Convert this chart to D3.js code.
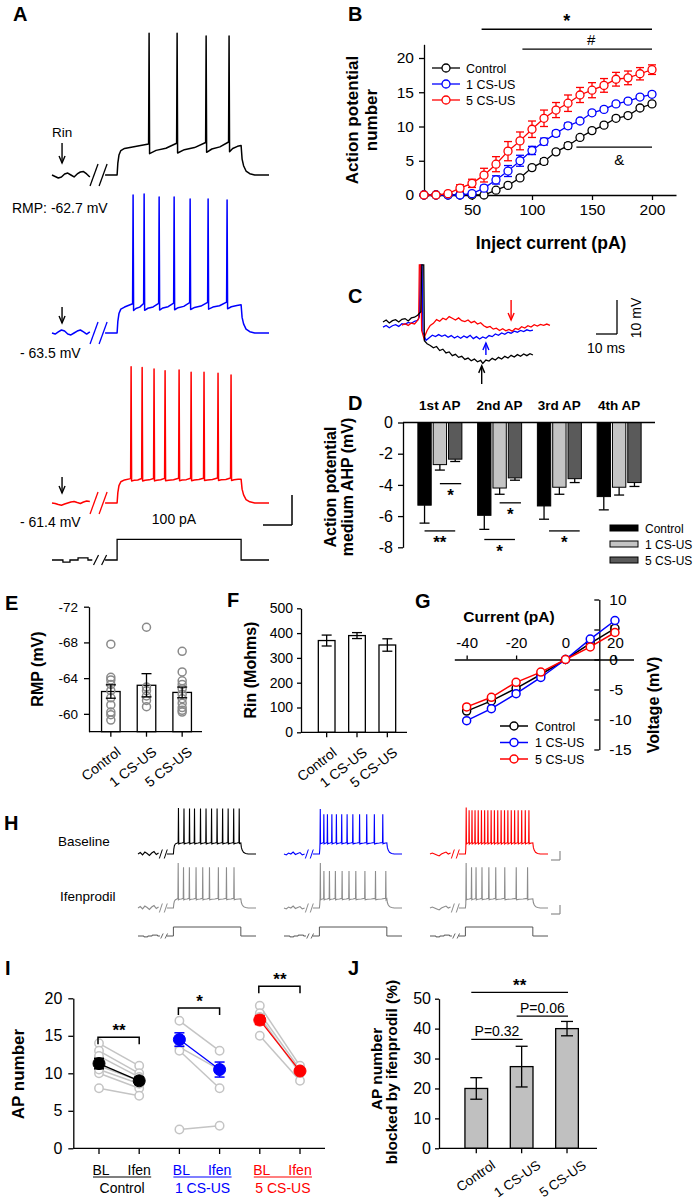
<!DOCTYPE html>
<html><head><meta charset="utf-8">
<script src="https://cdn.jsdelivr.net/npm/d3@7"></script>
<style>body{margin:0;background:#fff}svg{display:block}</style>
</head><body>
<svg id="fig" width="697" height="1202"></svg>
<script>
// ================= DATA =================
// Panel A (example traces)
const aSpikeTimesControl = [258, 484, 718, 903];
const aSpikeTimesOne = [129, 218, 339, 460, 589, 734, 887];
const aSpikeTimesFive = [113, 202, 298, 387, 500, 597, 701, 814, 919];
const aPeaksControl = [31.8, 31.8, 30, 30];
const aPeaksOne = [28.5, 29.2, 27.2, 27.2, 25.8, 25.8, 25.2];
const aPeaksFive = [29.5, 29, 27.9, 26.8, 27.2, 25.7, 25.7, 25.1, 23.9];
const aRmp = [-62.7, -63.5, -61.4];
const aRmpLabels = ['RMP: -62.7 mV', '- 63.5 mV', '- 61.4 mV'];
const aPreControl = [0, -1, -2, -1.3, 0.7, 1.3, 0, -1.3, 0.7, 2, 2.3, 0.7, -1.3];
const aPreOne = [0, -0.7, 0.7, 2, 1.3, -0.7, -1.3, 0, 1.3, 2, 0.7, -0.7, 0.7];
const aPreFive = [0, -0.3, -1, -1.5, -0.7, 0, 0.7, 1, 0.3, -0.3, 0.7, 1.3, 1];
const aStepCurrent = 100;
const aCurrentPreLevels = [0, -10, 0, 10, 0];
const aCurrentPreTimes = [-525, -437, -380, -315, -235, -200];

// Panel B
const bCurrent = [10,20,30,40,50,60,70,80,90,100,110,120,130,140,150,160,170,180,190,200];
const bControl = [0,0,0,0,0,0,0.7,1.4,2.5,4.0,4.9,6.3,7.2,8.4,9.4,10.2,11.2,11.6,12.7,13.3];
const bControlErr = [0,0,0,0,0,0,0.2,0.2,0.3,0.3,0.4,0.3,0.4,0.3,0.3,0.3,0.3,0.3,0.3,0.3];
const bOne = [0,0,0,0,0.2,1.0,2.2,3.5,5.0,6.5,7.8,9.0,10.1,10.8,12.0,12.5,13.3,13.7,14.3,14.7];
const bOneErr = [0,0,0,0,0.1,0.4,0.6,0.8,0.8,0.6,0.5,0.4,0.4,0.3,0.3,0.3,0.3,0.3,0.3,0.3];
const bFive = [0,0,0.2,1.0,1.7,2.9,4.5,6.4,7.9,9.6,11.2,12.4,13.4,14.6,15.3,16.0,16.9,17.1,17.7,18.3];
const bFiveErr = [0,0,0.1,0.5,0.6,1.0,1.1,1.4,1.3,1.2,1.2,1.1,1.2,1.1,1.1,1.0,1.0,1.0,0.9,0.7];
const groupNames = ['Control', '1 CS-US', '5 CS-US'];
const bYTicks = [0,5,10,15,20];
const bXTicks = [50,100,150,200];
const bSig = [{from:58,to:200,y:24.2,label:'*'},{from:92,to:200,y:21.3,label:'#'},{from:137,to:200,y:7.0,label:'&'}];

// Panel C (ms, mV)
const cControl = [[0,-60.0],[1.5,-59.4],[3,-60.3],[4.5,-59.6],[6,-59.3],[7.5,-60.0],[9,-59.2],[10.5,-59.0],[12,-59.7],[13.5,-58.8],[15,-58.6],[16.5,-58.0],[18,-57.0],[18.5,-43.2],[19.4,-43.2],[19.7,-65.5],[21,-66.4],[22.5,-66.9],[24,-67.6],[25.5,-67.2],[27,-68.4],[28.5,-68.0],[30,-69.1],[31.5,-68.8],[33,-69.9],[34.5,-69.5],[36,-70.4],[37.5,-70.1],[39,-71.0],[40.5,-70.6],[42,-71.4],[43.5,-70.9],[45,-71.7],[46.5,-71.3],[47.5,-72.2],[49,-71.2],[50.5,-71.5],[52,-70.7],[53.5,-71.2],[55,-70.4],[56.5,-70.9],[58,-70.1],[59.5,-70.6],[61,-69.8],[62.5,-70.3],[64,-69.6],[65.5,-70.1],[67,-69.4],[68.5,-69.9],[70,-69.3],[71.4,-69.7]];
const cOne = [[0,-61.5],[1.5,-61.0],[3,-61.7],[4.5,-61.1],[6,-60.8],[7.5,-61.3],[9,-60.5],[10.5,-60.7],[12,-60.1],[13.5,-60.4],[15,-59.8],[16.5,-59.5],[17.3,-58.5],[17.8,-43.2],[18.6,-43.2],[19.0,-63.0],[20.5,-65.4],[22,-64.6],[23.5,-63.9],[25,-64.3],[26.5,-63.7],[28,-64.2],[29.5,-63.8],[31,-64.5],[32.5,-64.0],[34,-64.7],[35.5,-64.2],[37,-64.8],[38.5,-64.1],[40,-64.6],[41.5,-63.9],[43,-64.9],[44.5,-64.3],[46,-65.0],[47.5,-64.4],[49,-64.8],[50.5,-64.0],[52,-64.3],[53.5,-63.5],[55,-63.9],[56.5,-63.2],[58,-63.6],[59.5,-63.0],[61,-63.3],[62.5,-62.7],[64,-63.0],[65.5,-62.5],[67,-62.8],[68.5,-62.3],[70,-62.6],[71.4,-62.4]];
const cFive = [[9,-60.9],[10.5,-60.5],[12,-61.0],[13.5,-60.3],[15,-60.6],[16,-59.9],[17,-59.0],[17.3,-43.2],[18.0,-43.2],[18.4,-62.5],[19.5,-64.8],[21,-62.5],[22.5,-61.0],[24,-60.4],[25.5,-59.3],[27,-59.8],[28.5,-58.9],[30,-59.3],[31.5,-58.4],[33,-58.9],[34.5,-59.4],[36,-58.8],[37.5,-59.6],[39,-59.9],[40.5,-59.4],[42,-60.2],[43.5,-59.8],[45,-60.6],[46.5,-60.2],[48,-61.1],[49.5,-61.6],[51,-61.3],[52.5,-62.1],[54,-61.8],[55.5,-62.5],[57,-62.0],[58.5,-62.6],[60,-62.2],[61.5,-62.7],[63,-61.9],[64.5,-62.2],[66,-61.4],[67.5,-61.8],[69,-61.1],[70.5,-61.5],[72,-60.8],[73.5,-61.2],[75,-60.7],[76.5,-61.0],[78,-60.6],[79.5,-61.0]];
const cArrows = [{t:61,from:-53.5,to:-59.4,color:'#ff0000'},{t:49,from:-69.7,to:-66.2,color:'#0000ff'},{t:47,from:-78.2,to:-72.9,color:'#000'}];

// Panel D
const dGroups = ['1st AP','2nd AP','3rd AP','4th AP'];
const dControl = [-5.3,-5.95,-5.35,-4.75];
const dControlErr = [1.15,0.9,0.85,0.85];
const dOne = [-2.7,-4.2,-4.15,-4.15];
const dOneErr = [0.35,0.4,0.45,0.5];
const dFive = [-2.35,-3.55,-3.6,-3.85];
const dFiveErr = [0.15,0.15,0.25,0.25];
const dYTicks = [0,-2,-4,-6,-8];
const dSig = [[0,'1 CS-US','5 CS-US',-3.92,'*',0,6],[1,'1 CS-US','5 CS-US',-5.15,'*',0,6],[0,'Control','5 CS-US',-6.95,'**',0,0],[1,'Control','5 CS-US',-7.5,'*',0,0],[2,'Control','5 CS-US',-6.95,'*',5,5]];

// Panel E
const eMeans = [-62.5,-63.2,-62.4];
const eErr = [0.75,1.3,0.6];
const eCellsControl = [-67.8,-64.1,-63.8,-63.3,-62.6,-61.8,-61.0,-60.2,-59.9,-59.3];
const eCellsOne = [-69.7,-63.0,-62.6,-62.0,-61.5,-60.8];
const eCellsFive = [-67.0,-64.7,-63.7,-63.3,-62.8,-62.2,-61.7,-61.2,-60.7,-60.4,-60.2];
const eYTicks = [-72,-68,-64,-60];

// Panel F
const fMeans = [370,390,352];
const fErr = [22,12,25];
const fYTicks = [0,100,200,300,400,500];

// Panel G
const gCurrent = [-40,-30,-20,-10,0,10,20];
const gControl = [-8.6,-6.9,-4.8,-2.5,0,2.7,5.2];
const gOne = [-10.2,-8.2,-5.7,-3.0,0,3.4,6.5];
const gFive = [-7.9,-6.3,-3.8,-2.1,0,2.1,4.5];
const gXTicks = [-40,-20,0,20];
const gYTicks = [-15,-10,-5,0,5,10];

// Panel H
const hBaseSpikesControl = [75,157,239,313,402,484,566,648,730,812,894,976];
const hBaseSpikesOne = [13,66,119,185,252,331,411,496,596,702,815,940];
const hBaseSpikesFive = [12,55,98,143,190,238,285,333,382,430,480,530,580,630,680,730,782,835,888,942];
const hIfenSpikesControl = [71,150,237,336,435,535,667,787,899];
const hIfenSpikesOne = [14,67,149,237,337,439,540,675,832,985];
const hIfenSpikesFive = [11,91,158,246,348,450,584,754,922];
const hPreA = [0,3,-2,4,1,-3,2,5,-1,2];
const hPreB = [0,-2,2,0,4,-1,1,3,-2,0];
const hPreC = [0,2,0,-2,-4,0,2,4,0,2];
const hRowLabels = ['Baseline','Ifenprodil'];

// Panel I
const iKeys = ['C-BL','C-If','1-BL','1-If','5-BL','5-If'];
const iMeanBL = [11.3,14.5,17.1];
const iErrBL = [0.7,0.9,0.6];
const iMeanIfen = [9.0,10.5,10.3];
const iErrIfen = [0.5,1.0,0.35];
const iCellsControl = [[14,11],[13,10],[12.3,9.5],[11,9],[10,8],[10.5,8.6],[8,7]];
const iCellsOne = [[17,13],[13.5,10.5],[13,8],[2.5,3]];
const iCellsFive = [[19,11],[18,10.5],[17.5,10],[15,9]];
const iYTicks = [0,5,10,15,20];
const iSigLabels = ['**','*','**'];
const iSigY = [14.8,18.7,21.6];

// Panel J
const jValues = [20,27.3,40];
const jErr = [3.6,6.8,2.4];
const jYTicks = [0,10,20,30,40,50];
const jSig = [['Control','5 CS-US',52.1,'**'],['1 CS-US','5 CS-US',44.2,'P=0.06'],['Control','1 CS-US',36.4,'P=0.32']];

// ================= DRAWING =================
const FONT = '"Liberation Sans", Arial, Helvetica, sans-serif';
const BLUE = '#0000ff', RED = '#ff0000', GRAY = '#8c8c8c', LGRAY = '#c4c4c4';
const svg = d3.select('#fig');
svg.append('rect').attr('width',697).attr('height',1202).attr('fill','#fff');

function T(g, x, y, s, o = {}) {
  const t = g.append('text').attr('x', x).attr('y', y).text(s)
    .attr('font-family', FONT).attr('font-size', o.size || 14)
    .attr('font-weight', o.weight || 'normal').attr('fill', o.fill || '#000')
    .attr('text-anchor', o.anchor || 'start');
  if (o.rotate) t.attr('transform', `rotate(${o.rotate},${x},${y})`);
  return t;
}
function L(g, x1, y1, x2, y2, c = '#000', w = 1.3) {
  return g.append('line').attr('x1', x1).attr('y1', y1).attr('x2', x2).attr('y2', y2).attr('stroke', c).attr('stroke-width', w);
}
function styleAxis(g, size) {
  g.attr('font-family', null).attr('font-size', null);
  g.select('.domain').attr('stroke', '#000').attr('stroke-width', 1.3);
  g.selectAll('.tick line').attr('stroke', '#000').attr('stroke-width', 1.3);
  g.selectAll('.tick text').attr('font-family', FONT).attr('font-size', size).attr('fill', '#000');
}
function arrow(g, x, y1, y2, c, w = 1.3) {
  L(g, x, y1, x, y2, c, w);
  const s = y2 > y1 ? -1 : 1;
  g.append('path').attr('d', `M${x-3},${y2 + s*7}L${x},${y2}L${x+3},${y2 + s*7}`).attr('fill', 'none').attr('stroke', c).attr('stroke-width', w);
}
const lineGen = (xs, ys) => d3.line().defined(d => d != null).x(d => xs(d[0])).y(d => ys(d[1]));

function buildTrace(sp) {
  const pts = [];
  const n = sp.pre.length;
  for (let i = 0; i < n; i++) pts.push([-525 + i * (305 / (n - 1)), sp.base + sp.pre[i]]);
  pts.push(null);
  pts.push([-97, sp.base], [0, sp.base]);
  const dv = sp.plateau - sp.base;
  const first = sp.spikes[0];
  [[6, 0.45], [15, 0.75], [30, 0.92], [60, 1]].forEach(([t, f]) => { if (t < first - 4) pts.push([t, sp.base + f * dv]); });
  const vp = t => sp.plateau + sp.ramp * t / 1000;
  const pk = i => Array.isArray(sp.peaks) ? sp.peaks[i] : (i === 0 ? sp.peakFirst : sp.peaks);
  let prev = null;
  sp.spikes.forEach((ts, i) => {
    if (prev !== null) {
      const gap = ts - prev;
      pts.push([prev + gap * 0.25, vp(prev) - sp.ahp * 0.45]);
      pts.push([prev + gap * 0.6, vp(prev) - sp.ahp * 0.1]);
    }
    pts.push([Math.max(ts - 4, 2), vp(ts) + sp.thr]);
    pts.push([ts, pk(i)]);
    pts.push([ts + 4, vp(ts) - sp.ahp]);
    prev = ts;
  });
  const gapEnd = 1000 - prev;
  if (gapEnd > 20) { pts.push([prev + gapEnd * 0.3, vp(prev) - sp.ahp * 0.45]); pts.push([prev + gapEnd * 0.7, vp(prev) - sp.ahp * 0.1]); }
  pts.push([1000, vp(1000)]);
  pts.push([1008, sp.base + 0.6 * dv], [1020, sp.base + 0.35 * dv], [1040, sp.base + 0.15 * dv], [1070, sp.base + 0.05 * dv], [1110, sp.base], [1225, sp.base]);
  return pts;
}
function buildCurrent() {
  const pts = [];
  for (let i = 0; i < aCurrentPreLevels.length; i++) { pts.push([aCurrentPreTimes[i], aCurrentPreLevels[i]]); pts.push([aCurrentPreTimes[i + 1], aCurrentPreLevels[i]]); }
  pts.push(null);
  pts.push([-97, 0], [0, 0], [0, aStepCurrent], [1000, aStepCurrent], [1000, 0], [1225, 0]);
  return pts;
}
function slashes(g, xs, y, hw, hh, c, w) {
  [-186, -113].forEach(t => L(g, xs(t) - hw, y + hh, xs(t) + hw, y - hh, c, w));
}

// ---------- panel letters ----------
[['A',13,21],['B',348,21],['C',348,303],['D',348,410],['E',5,610],['F',227,607],['G',415,608],['H',4,830],['I',5,975],['J',348,975]]
  .forEach(([s, x, y]) => T(svg, x, y, s, { size: 20, weight: 'bold' }));

// ---------- Panel A ----------
const gA = svg.append('g');
const aX = d3.scaleLinear().domain([-525, 1225]).range([52, 269]);
const aTraces = [
  { spikes: aSpikeTimesControl, peaks: aPeaksControl, pre: aPreControl, base: aRmp[0], plateau: -45, ramp: 2, ahp: 4, thr: 2.5, color: '#000', basePx: 175 },
  { spikes: aSpikeTimesOne, peaks: aPeaksOne, pre: aPreOne, base: aRmp[1], plateau: -46.2, ramp: 1.5, ahp: 2.5, thr: 2, color: BLUE, basePx: 333 },
  { spikes: aSpikeTimesFive, peaks: aPeaksFive, pre: aPreFive, base: aRmp[2], plateau: -46, ramp: 0.5, ahp: 0.8, thr: 0.8, color: RED, basePx: 503 }
];
aTraces.forEach((tr, k) => {
  const ys = d3.scaleLinear().domain([tr.base, tr.base + 10]).range([tr.basePx, tr.basePx - 15]);
  gA.append('path').datum(buildTrace(tr)).attr('d', lineGen(aX, ys)).attr('fill', 'none')
    .attr('stroke', tr.color).attr('stroke-width', 1.5).attr('stroke-linejoin', 'round');
  slashes(gA, aX, tr.basePx, 4, 11, tr.color, 1.3);
  arrow(gA, aX(-444), tr.basePx - (k === 0 ? 32 : 26), tr.basePx - (k === 0 ? 12 : 10), '#000', 1.4);
});
T(gA, 52, 137, 'Rin', { size: 13.5 });
T(gA, 12, 213, aRmpLabels[0], { size: 14 });
T(gA, 20, 358, aRmpLabels[1], { size: 14 });
T(gA, 20, 527, aRmpLabels[2], { size: 14 });
T(gA, 174, 524, aStepCurrent + ' pA', { size: 14, anchor: 'middle' });
L(gA, 292, 495, 292, 525, '#000', 1.5); L(gA, 263, 525, 292, 525, '#000', 1.5);
const aCurY = d3.scaleLinear().domain([0, 100]).range([560, 539.3]);
gA.append('path').datum(buildCurrent()).attr('d', lineGen(aX, aCurY)).attr('fill', 'none').attr('stroke', '#000').attr('stroke-width', 1.3);
[-170, -105].forEach(t => L(gA, aX(t) - 2.5, 565, aX(t) + 2.5, 555, '#000', 1.2));

// ---------- Panel B ----------
const gB = svg.append('g');
const xB = d3.scaleLinear().domain([10, 220]).range([424, 676]);
const yB = d3.scaleLinear().domain([0, 22]).range([195, 44.3]);
gB.append('g').attr('transform', 'translate(0,195)').call(d3.axisBottom(xB).tickValues(bXTicks).tickSize(5).tickSizeOuter(0).tickPadding(4)).call(styleAxis, 15.5);
gB.append('g').attr('transform', 'translate(424,0)').call(d3.axisLeft(yB).tickValues(bYTicks).tickSize(5).tickSizeOuter(0).tickPadding(5)).call(styleAxis, 15.5);
const bSeries = [{ v: bControl, e: bControlErr, c: '#000' }, { v: bOne, e: bOneErr, c: BLUE }, { v: bFive, e: bFiveErr, c: RED }];
bSeries.forEach(s => {
  const pts = bCurrent.map((x, i) => [x, s.v[i], s.e[i]]);
  gB.append('path').datum(pts).attr('d', d3.line().x(d => xB(d[0])).y(d => yB(d[1]))).attr('fill', 'none').attr('stroke', s.c).attr('stroke-width', 1.3);
  pts.filter(d => d[2] > 0.15).forEach(d => {
    const x = xB(d[0]);
    L(gB, x, yB(d[1] - d[2]), x, yB(d[1] + d[2]), s.c, 1.3);
    L(gB, x - 4, yB(d[1] + d[2]), x + 4, yB(d[1] + d[2]), s.c, 1.3);
    L(gB, x - 4, yB(d[1] - d[2]), x + 4, yB(d[1] - d[2]), s.c, 1.3);
  });
  gB.selectAll(null).data(pts).enter().append('circle').attr('cx', d => xB(d[0])).attr('cy', d => yB(d[1])).attr('r', 4)
    .attr('fill', '#fff').attr('stroke', s.c).attr('stroke-width', 1.3);
});
bSeries.forEach((s, i) => {
  const y = 68 + i * 16;
  L(gB, 432, y, 460, y, s.c, 1.3);
  gB.append('circle').attr('cx', 446).attr('cy', y).attr('r', 4).attr('fill', '#fff').attr('stroke', s.c).attr('stroke-width', 1.3);
  T(gB, 466, y + 4.5, groupNames[i], { size: 12.5 });
});
bSig.forEach(s => {
  const y = yB(s.y);
  L(gB, xB(s.from), y, xB(s.to), y, '#000', 1.3);
  const mx = (xB(s.from) + xB(s.to)) / 2;
  if (s.label === '*') T(gB, mx, y - 2, '*', { size: 18, weight: 'bold', anchor: 'middle' });
  else if (s.label === '#') T(gB, mx + 4, y - 4, '#', { size: 15, anchor: 'middle' });
  else T(gB, mx + 5, y + 18, s.label, { size: 15, anchor: 'middle' });
});
T(gB, 551, 249, 'Inject current (pA)', { size: 17.5, weight: 'bold', anchor: 'middle' });
T(gB, 358, 120, 'Action potential', { size: 17, weight: 'bold', anchor: 'middle', rotate: -90 });
T(gB, 377, 120, 'number', { size: 17, weight: 'bold', anchor: 'middle', rotate: -90 });

// ---------- Panel C ----------
const gC = svg.append('g');
const cX = d3.scaleLinear().domain([0, 10]).range([383, 404]);
const cY = d3.scaleLinear().domain([-60, -50]).range([322, 288]);
[[cOne, BLUE], [cFive, RED], [cControl, '#000']].forEach(([d, c]) =>
  gC.append('path').datum(d).attr('d', lineGen(cX, cY)).attr('fill', 'none').attr('stroke', c).attr('stroke-width', 1.3));
cArrows.forEach(a => arrow(gC, cX(a.t), cY(a.from), cY(a.to), a.color, 1.4));
L(gC, 617, 300, 617, 334, '#000', 1.3); L(gC, 596, 334, 617, 334, '#000', 1.3);
T(gC, 641, 318, '10 mV', { size: 14, anchor: 'middle', rotate: -90 });
T(gC, 606, 353, '10 ms', { size: 14, anchor: 'middle' });

// ---------- Panel D ----------
const gD = svg.append('g');
const yD = d3.scaleLinear().domain([-8, 0]).range([547.3, 422.5]);
const x0D = d3.scaleBand().domain(dGroups).range([410, 649]);
const x1D = d3.scaleBand().domain(groupNames).range([-22, 22]).paddingInner(0.13);
const dSeries = [{ v: dControl, e: dControlErr, c: '#000' }, { v: dOne, e: dOneErr, c: LGRAY }, { v: dFive, e: dFiveErr, c: '#5a5a5a' }];
dSeries.forEach((s, si) => {
  dGroups.forEach((g, gi) => {
    const xl = x0D(g) + x0D.bandwidth() / 2 + x1D(groupNames[si]);
    const w = x1D.bandwidth();
    const xc = xl + w / 2;
    const vEnd = s.v[gi] - s.e[gi];
    L(gD, xc, yD(s.v[gi]), xc, yD(vEnd), '#000', 1.3);
    L(gD, xc - 5, yD(vEnd), xc + 5, yD(vEnd), '#000', 1.3);
    gD.append('rect').attr('x', xl).attr('y', yD(0)).attr('width', w).attr('height', yD(s.v[gi]) - yD(0))
      .attr('fill', s.c).attr('stroke', '#000').attr('stroke-width', 1);
  });
});
gD.append('g').attr('transform', 'translate(403,0)').call(d3.axisLeft(yD).tickValues(dYTicks).tickFormat(d => String(d)).tickSize(5).tickSizeOuter(0).tickPadding(5)).call(styleAxis, 16);
L(gD, 403, yD(0), 655, yD(0), '#000', 1.3);
dGroups.forEach(g => T(gD, x0D(g) + x0D.bandwidth() / 2, 410, g, { size: 13.5, weight: 'bold', anchor: 'middle' }));
dSig.forEach(([gi, a, b, yv, lab, sa, sb]) => {
  const cx = x0D(dGroups[gi]) + x0D.bandwidth() / 2;
  const xa = cx + x1D(a) + x1D.bandwidth() / 2 + sa, xb = cx + x1D(b) + x1D.bandwidth() / 2 + sb;
  L(gD, xa, yD(yv), xb, yD(yv), '#000', 1.3);
  T(gD, (xa + xb) / 2, yD(yv) + 17, lab, { size: 17, weight: 'bold', anchor: 'middle' });
});
dSeries.forEach((s, i) => {
  const y = 528 + i * 16;
  gD.append('rect').attr('x', 610).attr('y', y - 3).attr('width', 28).attr('height', 6).attr('fill', s.c).attr('stroke', '#000').attr('stroke-width', 1);
  T(gD, 645, y + 4.5, groupNames[i], { size: 12 });
});
T(gD, 336, 487, 'Action potential', { size: 16, weight: 'bold', anchor: 'middle', rotate: -90 });
T(gD, 353, 487, 'medium AHP (mV)', { size: 16, weight: 'bold', anchor: 'middle', rotate: -90 });

// ---------- rotated category labels helper ----------
function rotLabels(g, xs, cats, axisY, dx, dy, size, ang) {
  cats.forEach(c => T(g, xs(c) + dx, axisY + dy, c, { size: size, anchor: 'end', rotate: ang }));
}

// ---------- Panel E ----------
const gE = svg.append('g');
const yE = d3.scaleLinear().domain([-58, -72]).range([731.7, 606.7]);
const xE = d3.scalePoint().domain(groupNames).range([93, 200]).padding(0.5);
const bwE = xE.step() * 0.52;
[eCellsControl, eCellsOne, eCellsFive].forEach((cells, i) => {
  const xc = xE(groupNames[i]);
  gE.append('rect').attr('x', xc - bwE / 2).attr('y', yE(eMeans[i])).attr('width', bwE).attr('height', yE(-58) - yE(eMeans[i]))
    .attr('fill', '#fff').attr('stroke', '#000').attr('stroke-width', 1.3);
  gE.selectAll(null).data(cells).enter().append('circle').attr('cx', xc).attr('cy', d => yE(d)).attr('r', 4)
    .attr('fill', 'none').attr('stroke', '#8a8a8a').attr('stroke-width', 1.5);
  const lo = eMeans[i] + eErr[i], hi = eMeans[i] - eErr[i];
  L(gE, xc, yE(lo), xc, yE(hi)); L(gE, xc - 5, yE(lo), xc + 5, yE(lo)); L(gE, xc - 5, yE(hi), xc + 5, yE(hi));
  L(gE, xc, 731.7, xc, 736.7);
});
gE.append('g').attr('transform', 'translate(89,0)').call(d3.axisLeft(yE).tickValues(eYTicks).tickFormat(d => String(d)).tickSize(5).tickSizeOuter(0).tickPadding(6)).call(styleAxis, 13.5);
L(gE, 89, 731.7, 202, 731.7);
rotLabels(gE, xE, groupNames, 731.7, 11, 22, 14, -38);
T(gE, 43, 669, 'RMP (mV)', { size: 16, weight: 'bold', anchor: 'middle', rotate: -90 });

// ---------- Panel F ----------
const gF = svg.append('g');
const yF = d3.scaleLinear().domain([0, 500]).range([732.3, 608.3]);
const xF = d3.scalePoint().domain(groupNames).range([311.5, 402.5]).padding(0.5);
const bwF = xF.step() * 0.55;
groupNames.forEach((g, i) => {
  const xc = xF(g);
  gF.append('rect').attr('x', xc - bwF / 2).attr('y', yF(fMeans[i])).attr('width', bwF).attr('height', yF(0) - yF(fMeans[i]))
    .attr('fill', '#fff').attr('stroke', '#000').attr('stroke-width', 1.3);
  const lo = fMeans[i] - fErr[i], hi = fMeans[i] + fErr[i];
  L(gF, xc, yF(lo), xc, yF(hi)); L(gF, xc - 5, yF(lo), xc + 5, yF(lo)); L(gF, xc - 5, yF(hi), xc + 5, yF(hi));
  L(gF, xc, 732.3, xc, 737.3);
});
gF.append('g').attr('transform', 'translate(301,0)').call(d3.axisLeft(yF).tickValues(fYTicks).tickSize(4).tickSizeOuter(0).tickPadding(4)).call(styleAxis, 14);
L(gF, 301, 732.3, 407, 732.3);
rotLabels(gF, xF, groupNames, 732.3, 11, 22, 14, -38);
T(gF, 256, 670, 'Rin (Mohms)', { size: 16, weight: 'bold', anchor: 'middle', rotate: -90 });

// ---------- Panel G ----------
const gG = svg.append('g');
const xG = d3.scaleLinear().domain([-45, 27.5]).range([454.3, 633.5]);
const yG = d3.scaleLinear().domain([-15, 10]).range([749.5, 599.5]);
gG.append('g').attr('transform', `translate(0,${yG(0)})`).call(d3.axisTop(xG).tickValues(gXTicks).tickFormat(d => String(d)).tickSize(4).tickSizeOuter(0).tickPadding(8)).call(styleAxis, 15);
gG.append('g').attr('transform', 'translate(599.3,0)').call(d3.axisRight(yG).tickValues(gYTicks).tickFormat(d => String(d)).tickSize(-5).tickSizeOuter(0).tickPadding(10)).call(styleAxis, 15.5);
const gSeries = [{ v: gControl, c: '#000' }, { v: gOne, c: BLUE }, { v: gFive, c: RED }];
gSeries.forEach(s => {
  const pts = gCurrent.map((x, i) => [x, s.v[i]]);
  gG.append('path').datum(pts).attr('d', d3.line().x(d => xG(d[0])).y(d => yG(d[1]))).attr('fill', 'none').attr('stroke', s.c).attr('stroke-width', 1.5);
  gG.selectAll(null).data(pts).enter().append('circle').attr('cx', d => xG(d[0])).attr('cy', d => yG(d[1])).attr('r', 4)
    .attr('fill', '#fff').attr('stroke', s.c).attr('stroke-width', 1.5);
});
gSeries.forEach((s, i) => {
  const y = 726 + i * 16.5;
  L(gG, 500, y, 528, y, s.c, 1.5);
  gG.append('circle').attr('cx', 514).attr('cy', y).attr('r', 4).attr('fill', '#fff').attr('stroke', s.c).attr('stroke-width', 1.5);
  T(gG, 535, y + 4.5, groupNames[i], { size: 12.5 });
});
T(gG, 509, 622, 'Current (pA)', { size: 15.5, weight: 'bold', anchor: 'middle' });
T(gG, 659, 705, 'Voltage (mV)', { size: 16, weight: 'bold', anchor: 'middle', rotate: -90 });

// ---------- Panel H ----------
const gH = svg.append('g');
const hCols = [138, 284, 430];
const hRows = [
  [{ spikes: hBaseSpikesControl, peakFirst: 33, peaks: 32, pre: hPreA, c: '#000' },
   { spikes: hBaseSpikesOne, peakFirst: 31, peaks: 20, pre: hPreB, c: BLUE },
   { spikes: hBaseSpikesFive, peakFirst: 34, peaks: 28, pre: hPreC, c: RED }],
  [{ spikes: hIfenSpikesControl, peakFirst: 31, peaks: 22, pre: hPreA, c: GRAY },
   { spikes: hIfenSpikesOne, peakFirst: 31, peaks: 14, pre: hPreB, c: GRAY },
   { spikes: hIfenSpikesFive, peakFirst: 31, peaks: 22, pre: hPreC, c: GRAY }]
];
const hBasePx = [854, 908];
const hPlateau = [-40, -44];
hRows.forEach((row, r) => {
  row.forEach((tr, ci) => {
    const xs = d3.scaleLinear().domain([-525, 1225]).range([hCols[ci], hCols[ci] + 118]);
    const sp = Object.assign({ base: -63, plateau: hPlateau[r], ramp: 0, ahp: 2, thr: 1 }, tr);
    const ys = d3.scaleLinear().domain([-63, -53]).range([hBasePx[r], hBasePx[r] - 4.8]);
    gH.append('path').datum(buildTrace(sp)).attr('d', lineGen(xs, ys)).attr('fill', 'none').attr('stroke', tr.c).attr('stroke-width', 1.1);
    slashes(gH, xs, hBasePx[r], 1.5, 4.5, tr.c, 1);
  });
  T(gH, r === 0 ? 58 : 60, r === 0 ? 846 : 901, hRowLabels[r], { size: 13.5 });
  L(gH, 560, hBasePx[r] - 3, 560, hBasePx[r] + 6, GRAY, 1.2);
  L(gH, 551, hBasePx[r] + 6, 560, hBasePx[r] + 6, GRAY, 1.2);
});
hCols.forEach(x0 => {
  const xs = d3.scaleLinear().domain([-525, 1225]).range([x0, x0 + 118]);
  const ys = d3.scaleLinear().domain([0, 100]).range([936, 927]);
  gH.append('path').datum(buildCurrent()).attr('d', lineGen(xs, ys)).attr('fill', 'none').attr('stroke', '#555').attr('stroke-width', 1);
  [-170, -105].forEach(t => L(gH, xs(t) - 1.2, 938.5, xs(t) + 1.2, 933.5, '#555', 0.9));
});

// ---------- Panel I ----------
const gI = svg.append('g');
const yI = d3.scaleLinear().domain([0, 20]).range([1148.3, 998.3]);
const xI = d3.scalePoint().domain(iKeys).range([99, 300]);
gI.append('g').attr('transform', 'translate(73.3,0)').call(d3.axisLeft(yI).tickValues(iYTicks).tickSize(5).tickSizeOuter(0).tickPadding(6)).call(styleAxis, 16);
L(gI, 73.3, 1148.3, 325, 1148.3);
iKeys.forEach(k => L(gI, xI(k), 1148.3, xI(k), 1154));
const iGroupColors = ['#000', BLUE, RED];
[iCellsControl, iCellsOne, iCellsFive].forEach((cells, g) => {
  const xa = xI(iKeys[2 * g]), xb = xI(iKeys[2 * g + 1]);
  cells.forEach(([a, b]) => L(gI, xa, yI(a), xb, yI(b), LGRAY, 1.5));
  cells.forEach(([a, b]) => {
    [[xa, a], [xb, b]].forEach(([x, v]) => gI.append('circle').attr('cx', x).attr('cy', yI(v)).attr('r', 4.2).attr('fill', '#fff').attr('stroke', LGRAY).attr('stroke-width', 1.5));
  });
  const c = iGroupColors[g];
  L(gI, xa, yI(iMeanBL[g]), xb, yI(iMeanIfen[g]), c, 1.3);
  [[xa, iMeanBL[g], iErrBL[g]], [xb, iMeanIfen[g], iErrIfen[g]]].forEach(([x, m, e]) => {
    L(gI, x, yI(m - e), x, yI(m + e), c, 1.5); L(gI, x - 5, yI(m - e), x + 5, yI(m - e), c, 1.5); L(gI, x - 5, yI(m + e), x + 5, yI(m + e), c, 1.5);
    gI.append('circle').attr('cx', x).attr('cy', yI(m)).attr('r', 6).attr('fill', c).attr('stroke', c);
  });
  const ys = yI(iSigY[g]);
  gI.append('path').attr('d', `M${xa - 1},${ys + 7}V${ys}H${xb}V${ys + 7}`).attr('fill', 'none').attr('stroke', '#000').attr('stroke-width', 1.5);
  T(gI, (xa + xb) / 2, ys - 1, iSigLabels[g], { size: 17, weight: 'bold', anchor: 'middle' });
  T(gI, xa + 2, 1175, 'BL', { size: 14, fill: c, anchor: 'middle' });
  T(gI, xb, 1175, 'Ifen', { size: 14, fill: c, anchor: 'middle' });
  L(gI, xa - 6, 1177, xb + 12, 1177, c, 1.2);
  T(gI, (xa + xb) / 2 + 3, 1193, groupNames[g], { size: 14, fill: c, anchor: 'middle' });
});
T(gI, 24, 1074, 'AP number', { size: 17, weight: 'bold', anchor: 'middle', rotate: -90 });

// ---------- Panel J ----------
const gJ = svg.append('g');
const yJ = d3.scaleLinear().domain([0, 50]).range([1148.3, 998.7]);
const xJ = d3.scalePoint().domain(groupNames).range([453.6, 589.7]).padding(0.5);
const bwJ = xJ.step() * 0.5;
groupNames.forEach((g, i) => {
  const xc = xJ(g);
  gJ.append('rect').attr('x', xc - bwJ / 2).attr('y', yJ(jValues[i])).attr('width', bwJ).attr('height', yJ(0) - yJ(jValues[i]))
    .attr('fill', '#c0c0c0').attr('stroke', '#000').attr('stroke-width', 1.3);
  const lo = jValues[i] - jErr[i], hi = jValues[i] + jErr[i];
  L(gJ, xc, yJ(lo), xc, yJ(hi)); L(gJ, xc - 6, yJ(lo), xc + 6, yJ(lo)); L(gJ, xc - 6, yJ(hi), xc + 6, yJ(hi));
  L(gJ, xc, 1148.3, xc, 1153.3);
});
gJ.append('g').attr('transform', 'translate(439,0)').call(d3.axisLeft(yJ).tickValues(jYTicks).tickSize(4).tickSizeOuter(0).tickPadding(4)).call(styleAxis, 16);
L(gJ, 439, 1148.3, 597, 1148.3);
jSig.forEach(([a, b, yv, lab]) => {
  const xa = xJ(a) - 5, xb = xJ(b) + 1;
  L(gJ, xa, yJ(yv), xb, yJ(yv), '#000', 1.3);
  if (lab === '**') T(gJ, (xa + xb) / 2, yJ(yv) - 1, lab, { size: 17, weight: 'bold', anchor: 'middle' });
  else T(gJ, (xa + xb) / 2, yJ(yv) - 3, lab, { size: 14, anchor: 'middle' });
});
rotLabels(gJ, xJ, groupNames, 1148.3, 20, 19, 13.5, -35);
T(gJ, 382, 1069, 'AP number', { size: 15.5, weight: 'bold', anchor: 'middle', rotate: -90 });
T(gJ, 397, 1072, 'blocked by ifenprodil (%)', { size: 15.5, weight: 'bold', anchor: 'middle', rotate: -90 });
</script>
</body></html>
